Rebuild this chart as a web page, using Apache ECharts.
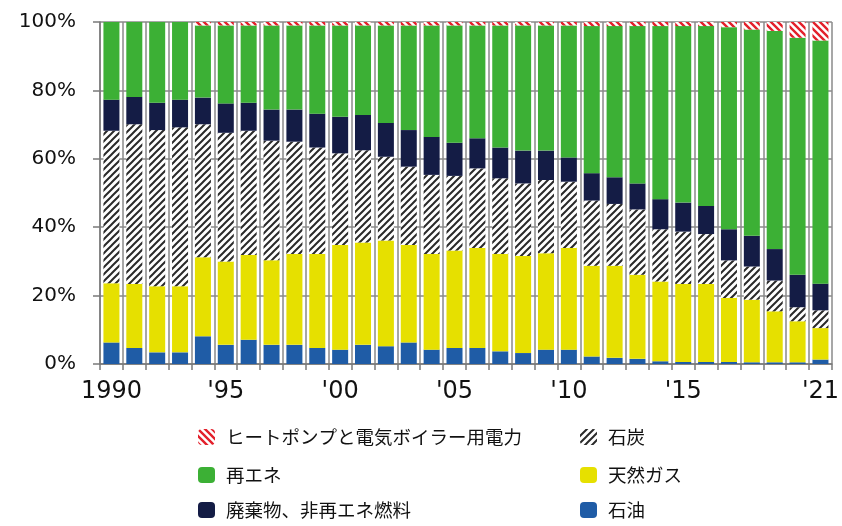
<!DOCTYPE html>
<html>
<head>
<meta charset="utf-8">
<script src="https://cdn.jsdelivr.net/npm/echarts@6/dist/echarts.min.js"></script>
<style>
  html, body { margin: 0; padding: 0; background: #fff; }
  #main { width: 842px; height: 526px; }
</style>
</head>
<body>
<div id="main"></div>
<script>
// 年（1990-2021）
const years = [1990, 1991, 1992, 1993, 1994, 1995, 1996, 1997, 1998, 1999,
  2000, 2001, 2002, 2003, 2004, 2005, 2006, 2007, 2008, 2009,
  2010, 2011, 2012, 2013, 2014, 2015, 2016, 2017, 2018, 2019, 2020, 2021];
const tickLabels = ['1990', '', '', '', '', "'95", '', '', '', '',
  "'00", '', '', '', '', "'05", '', '', '', '',
  "'10", '', '', '', '', "'15", '', '', '', '', '', "'21"];
const yTicks = ['0%', '20%', '40%', '60%', '80%', '100%'];

// 構成比（%）
const sekiyu = [6.3, 4.7, 3.4, 3.4, 8.1, 5.6, 7.1, 5.6, 5.6, 4.7,
  4.2, 5.6, 5.2, 6.3, 4.2, 4.7, 4.7, 3.7, 3.2, 4.2,
  4.2, 2.2, 1.8, 1.5, 0.8, 0.6, 0.6, 0.6, 0.5, 0.5, 0.5, 1.3];
const tennenGas = [17.3, 18.7, 19.3, 19.3, 23.1, 24.4, 24.8, 24.7, 26.6, 27.5,
  30.6, 29.9, 30.9, 28.5, 28.0, 28.5, 29.2, 28.5, 28.4, 28.2,
  29.7, 26.5, 26.9, 24.6, 23.3, 22.8, 22.8, 18.7, 18.3, 14.9, 12.0, 9.2];
const sekitan = [44.6, 46.7, 45.7, 46.5, 38.9, 37.6, 36.3, 35.0, 32.8, 31.1,
  26.8, 27.0, 24.5, 22.9, 23.1, 21.8, 23.3, 22.1, 21.2, 21.4,
  19.4, 19.1, 18.1, 19.1, 15.3, 15.3, 14.6, 11.0, 9.7, 9.0, 4.1, 5.2];
const haikibutsu = [9.1, 8.0, 8.0, 8.1, 7.8, 8.6, 8.2, 9.1, 9.4, 9.9,
  10.7, 10.3, 9.9, 10.7, 11.1, 9.7, 8.8, 9.0, 9.6, 8.6,
  7.1, 8.0, 7.8, 7.6, 8.8, 8.5, 8.2, 9.1, 9.0, 9.2, 9.5, 7.8];
const saiene = [22.7, 21.9, 23.6, 22.7, 21.1, 22.8, 22.6, 24.6, 24.6, 25.8,
  26.7, 26.2, 28.5, 30.6, 32.6, 34.3, 33.0, 35.7, 36.6, 36.6,
  38.6, 43.0, 44.2, 46.0, 50.6, 51.6, 52.6, 59.1, 60.3, 63.8, 69.3, 71.1];
const heatPump = [0, 0, 0, 0, 1.0, 1.0, 1.0, 1.0, 1.0, 1.0,
  1.0, 1.0, 1.0, 1.0, 1.0, 1.0, 1.0, 1.0, 1.0, 1.0,
  1.0, 1.2, 1.2, 1.2, 1.2, 1.2, 1.2, 1.5, 2.2, 2.6, 4.6, 5.4];

// 斜線パターン
function hatch(color, dir, width) {
  const s = 7;
  const c = document.createElement('canvas');
  c.width = s; c.height = s;
  const g = c.getContext('2d');
  g.fillStyle = '#fff';
  g.fillRect(0, 0, s, s);
  g.strokeStyle = color;
  g.lineWidth = width;
  g.beginPath();
  if (dir === '/') {
    g.moveTo(-1, s + 1); g.lineTo(s + 1, -1);
    g.moveTo(-1, 1); g.lineTo(1, -1);
    g.moveTo(s - 1, s + 1); g.lineTo(s + 1, s - 1);
  } else {
    g.moveTo(-1, -1); g.lineTo(s + 1, s + 1);
    g.moveTo(s - 1, -1); g.lineTo(s + 1, 1);
    g.moveTo(-1, s - 1); g.lineTo(1, s + 1);
  }
  g.stroke();
  return { image: c, repeat: 'repeat' };
}

const chart = echarts.init(document.getElementById('main'));

function bar(name, data, color) {
  return {
    name: name,
    type: 'bar',
    stack: 'total',
    data: data,
    barCategoryGap: '30%',
    itemStyle: { color: color },
    emphasis: { disabled: true }
  };
}

// 凡例（1項目ずつ配置）
function leg(name, left, top) {
  return {
    left: left, top: top, padding: 0,
    itemWidth: 17, itemHeight: 16,
    textStyle: { fontFamily: 'Noto Sans CJK JP', fontSize: 18.5, lineHeight: 20, color: '#111', padding: [0, 0, 0, 6] },
    data: [name]
  };
}

const option = {
  animation: false,
  backgroundColor: '#fff',
  textStyle: { fontFamily: 'DejaVu Sans' },
  grid: { left: 100, right: 9, top: 22, bottom: 162 },
  legend: [
    leg('ヒートポンプと電気ボイラー用電力', 198, 427),
    leg('再エネ', 198, 465),
    leg('廃棄物、非再エネ燃料', 198, 500),
    leg('石炭', 580, 427),
    leg('天然ガス', 580, 465),
    leg('石油', 580, 500)
  ],
  xAxis: {
    type: 'category',
    data: years,
    axisLine: { lineStyle: { color: '#7a7a7a', width: 1.5 } },
    axisTick: { show: true, interval: 0, length: 6, lineStyle: { color: '#7a7a7a', width: 1.5 } },
    splitLine: { show: true, interval: 0, lineStyle: { color: '#8a8a8a', width: 1.5 } },
    axisLabel: {
      interval: 0,
      margin: 16,
      fontSize: 24,
      color: '#111',
      formatter: (v, i) => tickLabels[i]
    }
  },
  yAxis: {
    type: 'value',
    min: 0, max: 100, interval: 20,
    axisLine: { show: true, lineStyle: { color: '#7a7a7a', width: 1.5 } },
    axisTick: { show: true, length: 7, lineStyle: { color: '#7a7a7a', width: 1.5 } },
    splitLine: { show: true, lineStyle: { color: '#8a8a8a', width: 1.5 } },
    axisLabel: {
      margin: 24,
      fontSize: 20,
      color: '#111',
      formatter: (v) => yTicks[Math.round(v / 20)]
    }
  },
  series: [
    bar('石油', sekiyu, '#1f5ca6'),
    bar('天然ガス', tennenGas, '#e6e000'),
    bar('石炭', sekitan, hatch('#2a2a2a', '/', 2)),
    bar('廃棄物、非再エネ燃料', haikibutsu, '#141c45'),
    bar('再エネ', saiene, '#3cb035'),
    bar('ヒートポンプと電気ボイラー用電力', heatPump, hatch('#e3202b', '\\', 2.4))
  ]
};

chart.setOption(option);
</script>
</body>
</html>
